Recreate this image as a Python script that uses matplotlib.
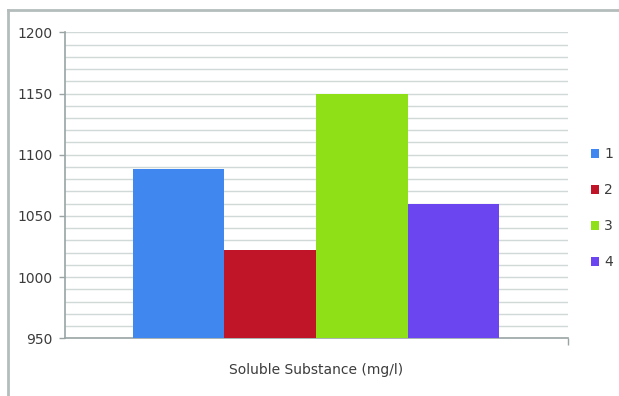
"""
Soluble substance bar chart (four samples).
Output: out.png
"""
import matplotlib
matplotlib.use("Agg")
import matplotlib.pyplot as plt
from matplotlib.lines import Line2D
from matplotlib.ticker import MultipleLocator

# sample labels and measured values (mg/l)
SAMPLES = ["1", "2", "3", "4"]
VALUES = [1088, 1022, 1150, 1060]
COLORS = ["#4088f0", "#c01428", "#90e018", "#6a45f0"]
XLABEL = "Soluble Substance (mg/l)"

FONT = ["DejaVu Sans Condensed", "Liberation Sans Narrow", "DejaVu Sans"]
TEXT_C = "#3c3c3c"
GRID_C = "#d0d8d8"
AXIS_C = "#9aa4a4"


def main() -> None:
    plt.rcParams["font.family"] = FONT
    W, H = 619, 396
    fig = plt.figure(figsize=(W / 100, H / 100), dpi=100)
    # plot area in pixel coords: x 65..568, y 32..338
    ax = fig.add_axes([65 / W, 1 - 338.3 / H, (568 - 65) / W, (338.3 - 32.3) / H])

    xs = range(len(VALUES))
    for x, v, c, lab in zip(xs, VALUES, COLORS, SAMPLES):
        ax.bar(x, v - 950, bottom=950, width=1.0, color=c, label=lab, zorder=3)

    ax.set_ylim(950, 1200)
    ax.set_xlim(-1.24, 4.25)
    ax.yaxis.set_major_locator(MultipleLocator(50))
    ax.yaxis.set_minor_locator(MultipleLocator(10))
    ax.grid(axis="y", which="both", color=GRID_C, lw=1.0, zorder=0)
    ax.set_xticks([4.25])
    ax.set_xticklabels([""])
    ax.tick_params(axis="x", length=5, color=AXIS_C, width=1)
    ax.tick_params(axis="y", which="major", length=4, color=AXIS_C, width=1,
                   labelsize=10, labelcolor=TEXT_C, pad=5)
    ax.tick_params(axis="y", which="minor", length=0)
    for s in ("top", "right"):
        ax.spines[s].set_visible(False)
    for s in ("left", "bottom"):
        ax.spines[s].set_color(AXIS_C)
        ax.spines[s].set_linewidth(1.2)

    ax.set_xlabel(XLABEL, fontsize=10, color=TEXT_C, labelpad=9)

    leg = ax.legend(loc="upper left", bbox_to_anchor=(578 / W, 1 - 135 / H),
                    bbox_transform=fig.transFigure, frameon=False, fontsize=10,
                    handlelength=0.6, handleheight=0.6, handletextpad=0.4,
                    labelspacing=1.58)
    for t in leg.get_texts():
        t.set_color(TEXT_C)

    # outer chart frame (top and left edges visible)
    fig.add_artist(Line2D([8 / W, 1], [1 - 10 / H, 1 - 10 / H],
                          transform=fig.transFigure, color="#b4bcbc", lw=2))
    fig.add_artist(Line2D([8 / W, 8 / W], [0, 1 - 10 / H],
                          transform=fig.transFigure, color="#b4bcbc", lw=2))

    fig.savefig("out.png", dpi=100, facecolor="white")
    plt.close(fig)


if __name__ == "__main__":
    main()
